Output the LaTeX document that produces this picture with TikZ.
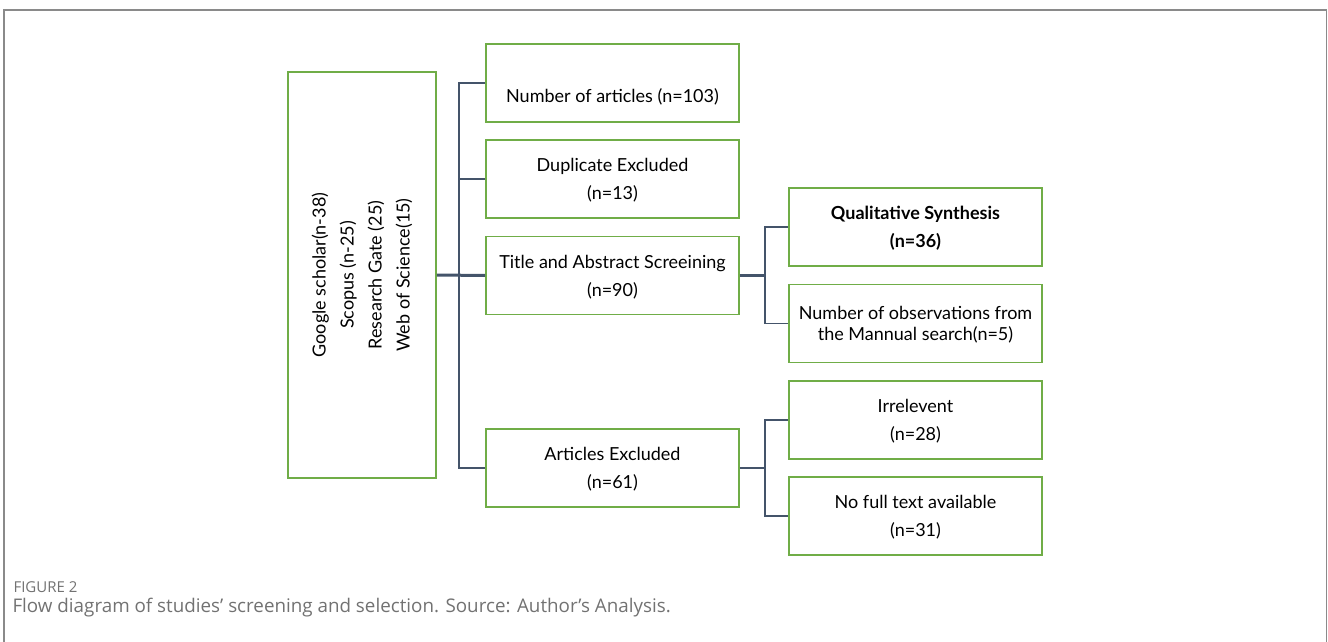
\documentclass[tikz,border=0pt]{standalone}
\usepackage{fontspec}
\setmainfont{Lato}
\newfontfamily\capfont{Open Sans}
\definecolor{boxgreen}{HTML}{70AD47}
\definecolor{connblue}{HTML}{44546A}
\definecolor{framegray}{HTML}{8A8A8A}
\definecolor{capgray}{HTML}{727272}
\begin{document}
\begin{tikzpicture}[x=1pt,y=-1pt,
  box/.style={draw=boxgreen, line width=1.6pt, minimum width=253pt, minimum height=78pt,
    inner sep=0pt, align=center, font=\fontsize{18}{28}\selectfont, text=black},
  lbl/.style={align=center, font=\fontsize{18}{28}\selectfont, text=black, inner sep=0pt},
  conn/.style={draw=connblue, line width=1.8pt},
  thickconn/.style={draw=connblue, line width=3pt}]
\useasboundingbox (0,0) rectangle (1328,642);
\draw[framegray, line width=1.6pt] (4,642) -- (4,10) -- (1326.5,10) -- (1326.5,642);

\node[box, minimum width=148pt, minimum height=406pt] (src) at (362,275) {};
\node[rotate=90, lbl] (srctext) at (src.center)
  {Google scholar(n-38)\\Scopus (n-25)\\Research Gate (25)\\Web of Science(15)};

\node[box] (b1) at (612.5,83) {};
\node[lbl] (b1text) at (612.5,97) {Number of articles (n=103)};
\node[box] (b2) at (612.5,179) {};
\node[lbl] (b2text) at (612.5,180.5) {Duplicate Excluded\\(n=13)};
\node[box] (b3) at (612.5,275.5) {};
\node[lbl] (b3text) at (612.5,277) {Title and Abstract Screeining\\(n=90)};
\node[box] (b4) at (612.5,468) {};
\node[lbl] (b4text) at (612.5,469.5) {Articles Excluded\\(n=61)};
\node[box] (b5) at (915.5,227) {};
\node[lbl, font=\bfseries\fontsize{18}{28}\selectfont] (b5text) at (915.5,228.5) {Qualitative Synthesis\\(n=36)};
\node[box] (b6) at (915.5,323.5) {};
\node[lbl, font=\fontsize{18}{21}\selectfont] (b6text) at (915.5,324.5) {Number of observations from\\the Mannual search(n=5)};
\node[box] (b7) at (915.5,420) {};
\node[lbl] (b7text) at (915.5,421.5) {Irrelevent\\(n=28)};
\node[box] (b8) at (915.5,516) {};
\node[lbl] (b8text) at (915.5,517.5) {No full text available\\(n=31)};

\draw[thickconn] (src.east) -- (b3.west);
\draw[conn] (b1.west) -- ++(-26,0) coordinate (t1) |- (b4.west);
\draw[conn] (b2.west) -- (t1 |- b2.west);

\draw[conn, line width=2.4pt] (b3.east) -- ++(25,0) coordinate (j2);
\draw[conn] (b5.west) -| (j2) |- (b6.west);
\draw[conn, line width=2.4pt] (b4.east) -- ++(25,0) coordinate (j3);
\draw[conn] (b7.west) -| (j3) |- (b8.west);

\node[anchor=west, text=capgray, font=\capfont\fontsize{15}{17}\selectfont] (figlabel) at (10,587) {FIGURE 2};
\node[anchor=west, text=capgray, font=\capfont\fontsize{18.8}{20}\selectfont] (caption) at (9,608)
  {Flow diagram of studies’ screening and selection. Source: Author’s Analysis.};
\end{tikzpicture}
\end{document}
